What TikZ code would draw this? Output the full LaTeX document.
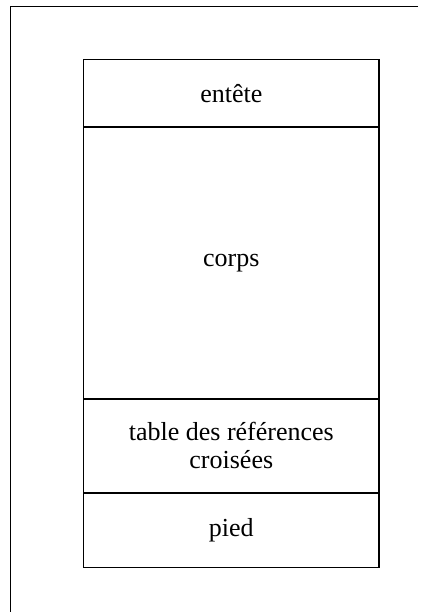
\documentclass[tikz,border=0pt]{standalone}
\usepackage{fontspec}
\setmainfont{Liberation Serif}
\begin{document}
\begin{tikzpicture}[x=1pt,y=1pt,
  part/.style={draw, line width=1.6pt, inner sep=0pt, minimum width=295.6pt, anchor=north west, align=center, font=\fontsize{26}{28}\selectfont}]
\useasboundingbox (0,0) rectangle (429,612);
\coordinate (tl) at (10.5,605.3);
\coordinate (tr) at (418,605.3);
\coordinate (bl) at (10.5,0);
\draw[line width=1.6pt] (tr) -- (tl) -- (bl);
\node[part, minimum height=67.3pt] (head) at (82.7,553.3) {entête};
\node[part, minimum height=272pt] (body) at (82.7,486) {corps};
\node[part, minimum height=94pt] (xref) at (82.7,214) {table des références\\croisées};
\node[part, minimum height=74.7pt] (foot) at (82.7,120) {pied};
\end{tikzpicture}
\end{document}
